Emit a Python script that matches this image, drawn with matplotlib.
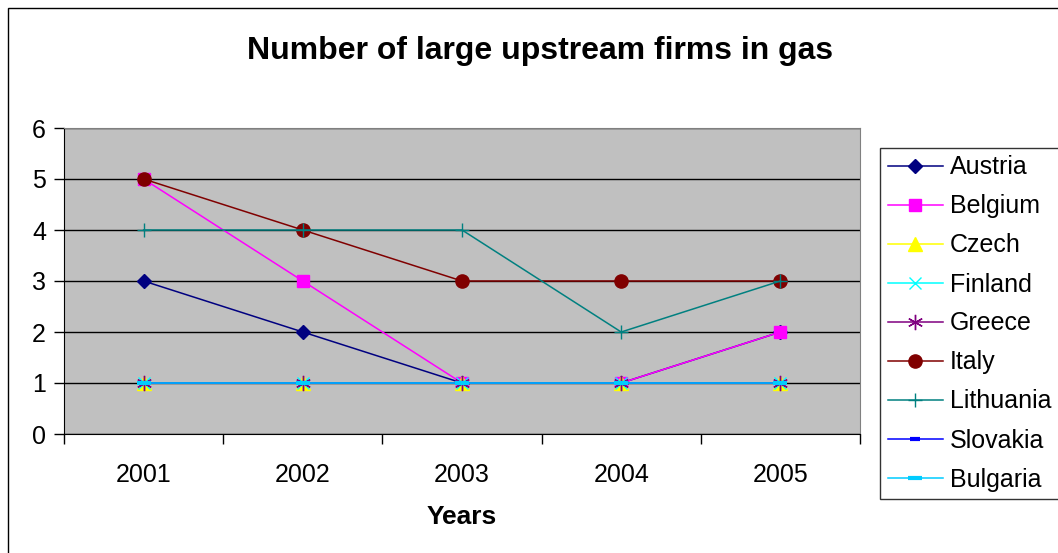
import matplotlib.pyplot as plt
from matplotlib.patches import Rectangle

plt.rcParams['font.family'] = ['Liberation Sans', 'DejaVu Sans']

# 연도별 대형 업스트림 기업 수
years = ['2001', '2002', '2003', '2004', '2005']
austria = [3, 2, 1, 1, 2]
belgium = [5, 3, 1, 1, 2]
czech = [1, 1, 1, 1, 1]
finland = [1, 1, 1, 1, 1]
greece = [1, 1, 1, 1, 1]
italy = [5, 4, 3, 3, 3]
lithuania = [4, 4, 4, 2, 3]
slovakia = [1, 1, 1, 1, 1]
bulgaria = [1, 1, 1, 1, 1]

series = [
    ('Austria', austria, '#000080', dict(marker='D', markersize=7)),
    ('Belgium', belgium, '#FF00FF', dict(marker='s', markersize=9)),
    ('Czech', czech, '#FFFF00', dict(marker='^', markersize=10)),
    ('Finland', finland, '#00FFFF', dict(marker='x', markersize=9, markeredgewidth=1)),
    ('Greece', greece, '#800080', dict(marker=(6, 2, 0), markersize=11, markeredgewidth=1)),
    ('Italy', italy, '#800000', dict(marker='o', markersize=9.5)),
    ('Lithuania', lithuania, '#008080', dict(marker='+', markersize=10, markeredgewidth=1)),
    ('Slovakia', slovakia, '#0000FF', dict(marker='_', markersize=7, markeredgewidth=3)),
    ('Bulgaria', bulgaria, '#00CCFF', dict(marker='_', markersize=10, markeredgewidth=3)),
]

fig = plt.figure(figsize=(10.58, 5.53), dpi=100)
ax = fig.add_axes([64 / 1058, 1 - 434 / 553, (860 - 64) / 1058, (434 - 128) / 553])
ax.set_facecolor('#C0C0C0')

x = list(range(1, len(years) + 1))
for name, vals, color, mk in series:
    ax.plot(x, vals, color=color, linewidth=1.1, label=name,
            markerfacecolor=color, markeredgecolor=color, **mk)

ax.set_xlim(0.5, 5.5)
ax.set_ylim(0, 6)
ax.set_yticks(range(0, 7))
ax.set_xticks(x)
ax.set_xticklabels(years)
ax.set_xticks([0.5, 1.5, 2.5, 3.5, 4.5, 5.5], minor=True)
ax.tick_params(axis='x', which='major', length=0, pad=21, labelsize=18)
ax.tick_params(axis='x', which='minor', length=7, width=1, direction='out')
ax.tick_params(axis='y', length=7, width=1, direction='out', pad=6, labelsize=18)
ax.grid(axis='y', color='black', linewidth=1)
ax.set_axisbelow(True)
for s in ['top', 'right']:
    ax.spines[s].set_color('#808080')
for s in ['left', 'bottom']:
    ax.spines[s].set_color('black')

fig.text(0.51, 0.907, 'Number of large upstream firms in gas', ha='center', va='center',
         fontsize=23, fontweight='bold')
fig.text(462 / 1058, 1 - 517 / 553, 'Years', ha='center', va='center',
         fontsize=19, fontweight='bold')

leg = ax.legend(loc='upper left', bbox_to_anchor=(880 / 1058, 1 - 148 / 553),
                bbox_transform=fig.transFigure, fontsize=18, frameon=True,
                fancybox=False, edgecolor='black', borderaxespad=0,
                handlelength=2.2, handletextpad=0.3, labelspacing=0.6,
                borderpad=0.3)
leg.get_frame().set_linewidth(1)

# 바깥 테두리
fig.patches.append(Rectangle((8 / 1058, -0.05), 1.1, 1 - 8 / 553 + 0.05,
                             transform=fig.transFigure, fill=False,
                             edgecolor='black', linewidth=1))

fig.savefig('out.png', dpi=100)
